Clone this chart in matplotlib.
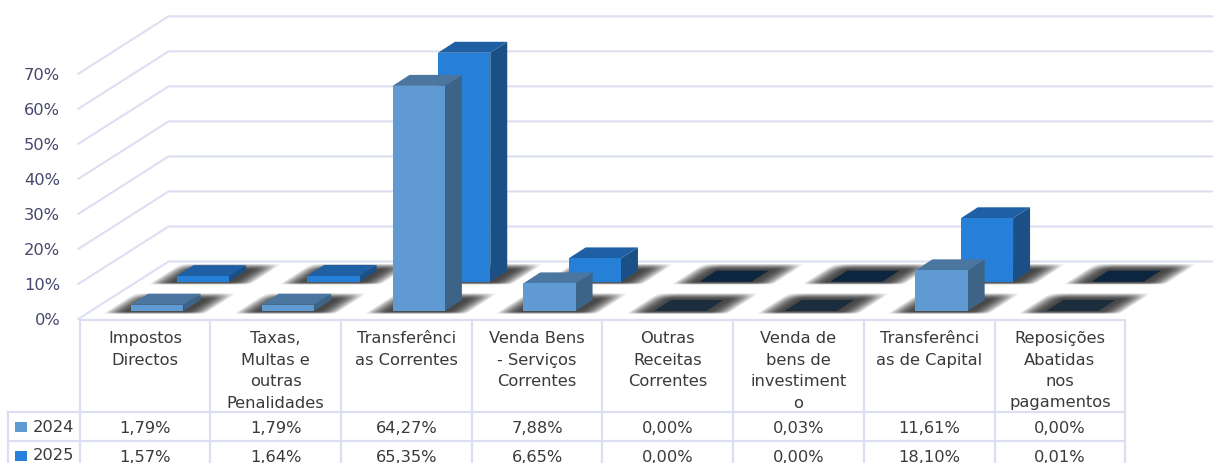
import matplotlib
matplotlib.use('Agg')
import numpy as np
import matplotlib.pyplot as plt
from matplotlib.patches import Polygon, Rectangle

categories = ['Impostos\nDirectos', 'Taxas,\nMultas e\noutras\nPenalidades',
              'Transferênci\nas Correntes', 'Venda Bens\n- Serviços\nCorrentes',
              'Outras\nReceitas\nCorrentes', 'Venda de\nbens de\ninvestiment\no',
              'Transferênci\nas de Capital', 'Reposições\nAbatidas\nnos\npagamentos']
series_names = ['2024', '2025']
values_2024 = [1.79, 1.79, 64.27, 7.88, 0.00, 0.03, 11.61, 0.00]
values_2025 = [1.57, 1.64, 65.35, 6.65, 0.00, 0.00, 18.10, 0.01]
y_ticks = [0, 10, 20, 30, 40, 50, 60, 70]

W, H = 1213, 463
X0, X1 = 79.6, 1125.2      # table / category span in px
Y0, Y70 = 319, 73.8        # 0% and 70% on the front plane in px
CAT = (X1 - X0) / 8
PCT = (Y0 - Y70) / 70
DEPTH_X, DEPTH_Y = 89 / CAT, 57.5 / PCT   # floor depth, in data units

GRID = '#dcdff1'
AXIS_TEXT = '#45476b'
TABLE_TEXT = '#3a3a3a'
FONT = 11.7

# front, side, top, flat top colours for each series
COLORS = [('#5f9bd2', '#3d6486', '#4a769f', '#1c2e3e'),
          ('#2680d8', '#1b5086', '#1f5fa3', '#0c2640')]
BASE_DEPTH = [0.139, 0.649]
BAR_DEPTH = 0.191
BAR_LEFT, BAR_WIDTH = 0.30, 0.40


def proj(x, v, d):
    return (x + d * DEPTH_X, v + d * DEPTH_Y)


def ramp(t):
    t = np.clip(t, 0, 1)
    return t * (2 - t)


def draw_shadows(ax, n_cats):
    # soft floor shadow under every bar, painted as one alpha image
    px, py = np.meshgrid(np.arange(W) + 0.5, np.arange(H) + 0.5)
    alpha = np.zeros((H, W))
    bar_w = BAR_WIDTH * CAT
    depth_h = BAR_DEPTH * 57.5
    for d in BASE_DEPTH:
        base_y = Y0 - d * 57.5
        for i in range(n_cats):
            left = X0 + (i + BAR_LEFT) * CAT + d * 89
            u = px - left - (base_y - py) * 89 / 57.5
            a = ramp((u + 24) / 24) * ramp((bar_w + 26 - u) / 24)
            a = a * ramp((py - (base_y - depth_h - 7)) / 7) * ramp((base_y + 3 - py) / 3)
            alpha = np.maximum(alpha, a * 0.8)
    rgba = np.zeros((H, W, 4))
    rgba[..., :3] = 0.1
    rgba[..., 3] = alpha
    ax.imshow(rgba, extent=((0 - X0) / CAT, (W - X0) / CAT, (Y0 - H) / PCT, Y0 / PCT),
              aspect='auto', origin='upper', zorder=2, clip_on=False, interpolation='bilinear')
    ax.set_xlim(0, 8)
    ax.set_ylim(0, 70)


def draw_bar(ax, i, v, d, cols, zorder):
    x = i + BAR_LEFT
    xr = x + BAR_WIDTH
    d2 = d + BAR_DEPTH
    front, side, top, flat = cols
    if v < 0.1:
        pts = [proj(x, 0, d), proj(xr, 0, d), proj(xr, 0, d2), proj(x, 0, d2)]
        ax.add_patch(Polygon(pts, fc=flat, ec='none', zorder=zorder, clip_on=False))
        return
    ax.add_patch(Polygon([proj(xr, 0, d), proj(xr, 0, d2), proj(xr, v, d2), proj(xr, v, d)],
                         fc=side, ec='none', zorder=zorder, clip_on=False))
    ax.add_patch(Polygon([proj(x, v, d), proj(xr, v, d), proj(xr, v, d2), proj(x, v, d2)],
                         fc=top, ec='none', zorder=zorder, clip_on=False))
    ax.add_patch(Polygon([proj(x, 0, d), proj(xr, 0, d), proj(xr, v, d), proj(x, v, d)],
                         fc=front, ec='none', zorder=zorder, clip_on=False))


def draw_chart(ax):
    ax.set_xlim(0, 8)
    ax.set_ylim(0, 70)
    for s in ax.spines.values():
        s.set_visible(False)
    ax.set_xticks([])
    ax.set_yticks(y_ticks)
    ax.set_yticklabels([f'{t}%' for t in y_ticks], fontsize=FONT, color=AXIS_TEXT)
    ax.tick_params(axis='y', length=0, pad=14)

    for t in y_ticks:
        bx, by = proj(0, t, 1)
        ax.plot([-0.01, bx, 9], [t, by, by], color=GRID, lw=1.5, clip_on=False, zorder=1)

    draw_shadows(ax, len(categories))
    for row, vals in reversed(list(enumerate([values_2024, values_2025]))):
        for i, v in enumerate(vals):
            draw_bar(ax, i, v, BASE_DEPTH[row], COLORS[row], 3 + (1 - row))


def draw_table(tb):
    tb.set_xlim(0, W)
    tb.set_ylim(H, 0)
    tb.axis('off')
    tb.patch.set_alpha(0)

    row_y = [412, 440.7, 470]
    for k in range(9):
        x = X0 + k * CAT
        tb.plot([x, x], [320, 470], color=GRID, lw=1.6)
    tb.plot([8.4, 8.4], [row_y[0], 470], color=GRID, lw=1.6)
    tb.plot([X0, X1], [320, 320], color=GRID, lw=1.6)
    tb.plot([8.4, X1], [row_y[0], row_y[0]], color=GRID, lw=1.6)
    tb.plot([8.4, X1], [row_y[1], row_y[1]], color=GRID, lw=1.6)

    for i, name in enumerate(categories):
        cx = X0 + (i + 0.5) * CAT
        for j, line in enumerate(name.split('\n')):
            tb.text(cx, 343.3 + j * 21.4, line, ha='center', va='baseline',
                    fontsize=FONT, color=TABLE_TEXT)

    text_y = [432.7, 461.5]
    for row, vals in enumerate([values_2024, values_2025]):
        tb.add_patch(Rectangle((14.5, text_y[row] - 11), 12.5, 10, fc=COLORS[row][0], ec='none'))
        tb.text(32.5, text_y[row] - 1, series_names[row], ha='left', va='baseline',
                fontsize=FONT, color=TABLE_TEXT)
        for i, v in enumerate(vals):
            tb.text(X0 + (i + 0.5) * CAT, text_y[row], f'{v:.2f}%'.replace('.', ','),
                    ha='center', va='baseline', fontsize=FONT, color=TABLE_TEXT)


def main():
    fig = plt.figure(figsize=(W / 100, H / 100), dpi=100, facecolor='white')
    ax = fig.add_axes([X0 / W, 1 - Y0 / H, (X1 - X0) / W, (Y0 - Y70) / H])
    ax.patch.set_alpha(0)
    draw_chart(ax)
    tb = fig.add_axes([0, 0, 1, 1])
    draw_table(tb)
    fig.savefig('out.png', dpi=100)


if __name__ == '__main__':
    main()
